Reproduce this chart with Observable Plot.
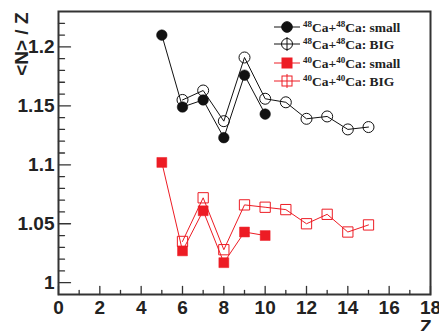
<!DOCTYPE html>
<html><head><meta charset="utf-8">
<script src="https://cdn.jsdelivr.net/npm/d3@7"></script>
<script src="https://cdn.jsdelivr.net/npm/@observablehq/plot@0.6"></script>
<style>
body{margin:0;background:#fff;}
#chart{position:relative;width:439px;height:331px;}
</style>
</head><body><div id="chart"></div>
<script>
const zSmall = [5, 6, 7, 8, 9, 10];
const zBig = [6, 7, 8, 9, 10, 11, 12, 13, 14, 15];
const ca48Small = [1.210, 1.149, 1.155, 1.123, 1.176, 1.143];
const ca48Big = [1.155, 1.163, 1.137, 1.191, 1.156, 1.153, 1.139, 1.141, 1.130, 1.132];
const ca40Small = [1.102, 1.027, 1.061, 1.017, 1.043, 1.040];
const ca40Big = [1.035, 1.072, 1.028, 1.066, 1.064, 1.062, 1.050, 1.058, 1.043, 1.049];
const xMajorTicks = [0, 2, 4, 6, 8, 10, 12, 14, 16, 18];
const xMinorTicks = [1, 3, 5, 7, 9, 11, 13, 15, 17];
const yMajorTicks = [1, 1.05, 1.1, 1.15, 1.2];
const yMinorTicks = [1.01, 1.02, 1.03, 1.04, 1.06, 1.07, 1.08, 1.09, 1.11, 1.12, 1.13, 1.14, 1.16, 1.17, 1.18, 1.19, 1.21, 1.22];
const seriesNames = ["48Ca+48Ca: small", "48Ca+48Ca: BIG", "40Ca+40Ca: small", "40Ca+40Ca: BIG"];

const RED = "#ed1c24", BLK = "#111";
const rows = (zs, vs) => zs.map((z, i) => ({z, v: vs[i]}));
const s48s = rows(zSmall, ca48Small), s48b = rows(zBig, ca48Big);
const s40s = rows(zSmall, ca40Small), s40b = rows(zBig, ca40Big);
const tickShape = {draw(ctx, l) { ctx.moveTo(0, 0); ctx.lineTo(0, -l); }};
const font = "'Liberation Sans', Arial, sans-serif";

const plot = Plot.plot({
  width: 439, height: 331,
  marginLeft: 58, marginRight: 9, marginTop: 11, marginBottom: 37,
  style: {fontFamily: font, background: "#fff"},
  x: {domain: [0, 18]},
  y: {domain: [0.99, 1.23]},
  marks: [
    Plot.axisX({ticks: xMajorTicks, tickSize: 0, tickPadding: 6, fontSize: 19, fontWeight: "bold", label: null, fill: "#222"}),
    Plot.axisY({ticks: yMajorTicks, tickSize: 0, tickPadding: 4, fontSize: 19, fontWeight: "bold", label: null, fill: "#222", tickFormat: d => String(+d.toFixed(2))}),
    Plot.vector(xMajorTicks, {x: d => d, frameAnchor: "bottom", length: 8, rotate: 0, anchor: "start", shape: tickShape, stroke: "#333", strokeWidth: 1.3}),
    Plot.vector(xMinorTicks, {x: d => d, frameAnchor: "bottom", length: 4, rotate: 0, anchor: "start", shape: tickShape, stroke: "#333", strokeWidth: 1.3}),
    Plot.vector(yMajorTicks, {y: d => d, frameAnchor: "left", length: 12, rotate: 90, anchor: "start", shape: tickShape, stroke: "#333", strokeWidth: 1.3}),
    Plot.vector(yMinorTicks, {y: d => d, frameAnchor: "left", length: 6, rotate: 90, anchor: "start", shape: tickShape, stroke: "#333", strokeWidth: 1.3}),
    Plot.frame({stroke: "#333", strokeWidth: 2}),
    Plot.line(s48s, {x: "z", y: "v", stroke: BLK, strokeWidth: 1}),
    Plot.line(s48b, {x: "z", y: "v", stroke: BLK, strokeWidth: 1}),
    Plot.line(s40s, {x: "z", y: "v", stroke: RED, strokeWidth: 1}),
    Plot.line(s40b, {x: "z", y: "v", stroke: RED, strokeWidth: 1}),
    Plot.dot(s48s, {x: "z", y: "v", r: 5.3, fill: BLK, stroke: BLK, strokeWidth: 0.5}),
    Plot.dot(s48b, {x: "z", y: "v", r: 5.5, fill: "none", stroke: BLK, strokeWidth: 1}),
    Plot.dot(s40s, {x: "z", y: "v", r: 5.6, symbol: "square", fill: RED, stroke: RED, strokeWidth: 0.5}),
    Plot.dot(s40b, {x: "z", y: "v", r: 5.8, symbol: "square", fill: "none", stroke: RED, strokeWidth: 1}),
    Plot.text(["<N> / Z"], {frameAnchor: "top-left", dx: -31, dy: 1, rotate: -90, textAnchor: "end", lineAnchor: "bottom", fontSize: 19, fontWeight: "bold", fill: "#222"}),
    Plot.text(["Z"], {frameAnchor: "bottom-right", dx: 1, dy: 25, textAnchor: "end", lineAnchor: "top", fontSize: 19, fontWeight: "bold", fill: "#222"})
  ]
});
document.getElementById("chart").appendChild(plot);

// legend
const svg = d3.select(plot);
const leg = svg.append("g").attr("font-family", "'Liberation Serif', 'Times New Roman', serif").attr("font-weight", "bold").attr("font-size", 13.5).attr("fill", "#222").attr("text-anchor", "start");
const legY = [27, 44, 63, 81];
const legStyles = [
  {color: BLK, sym: "circle", filled: true},
  {color: BLK, sym: "circle", filled: false},
  {color: RED, sym: "square", filled: true},
  {color: RED, sym: "square", filled: false}
];
legStyles.forEach((s, i) => {
  const y = legY[i];
  const g = leg.append("g");
  g.append("line").attr("x1", 274).attr("x2", 300).attr("y1", y).attr("y2", y).attr("stroke", s.color).attr("stroke-width", 1);
  if (!s.filled) g.append("line").attr("x1", 287).attr("x2", 287).attr("y1", y - 7).attr("y2", y + 7).attr("stroke", s.color).attr("stroke-width", 1);
  if (s.sym === "circle") {
    g.append("circle").attr("cx", 287).attr("cy", y).attr("r", s.filled ? 5.3 : 5.5).attr("fill", s.filled ? s.color : "none").attr("stroke", s.color);
  } else {
    g.append("rect").attr("x", 282).attr("y", y - 5).attr("width", 10).attr("height", 10).attr("fill", s.filled ? s.color : "none").attr("stroke", s.color);
  }
  const m = seriesNames[i].match(/^(\d+)Ca\+(\d+)Ca(.*)$/);
  const t = g.append("text").attr("x", 303).attr("y", y + 5).attr("text-anchor", "start");
  t.append("tspan").attr("font-size", 9).attr("dy", -5).text(m[1]);
  t.append("tspan").attr("dy", 5).text("Ca+");
  t.append("tspan").attr("font-size", 9).attr("dy", -5).text(m[2]);
  t.append("tspan").attr("dy", 5).text("Ca" + m[3]);
});
</script>
</body></html>
